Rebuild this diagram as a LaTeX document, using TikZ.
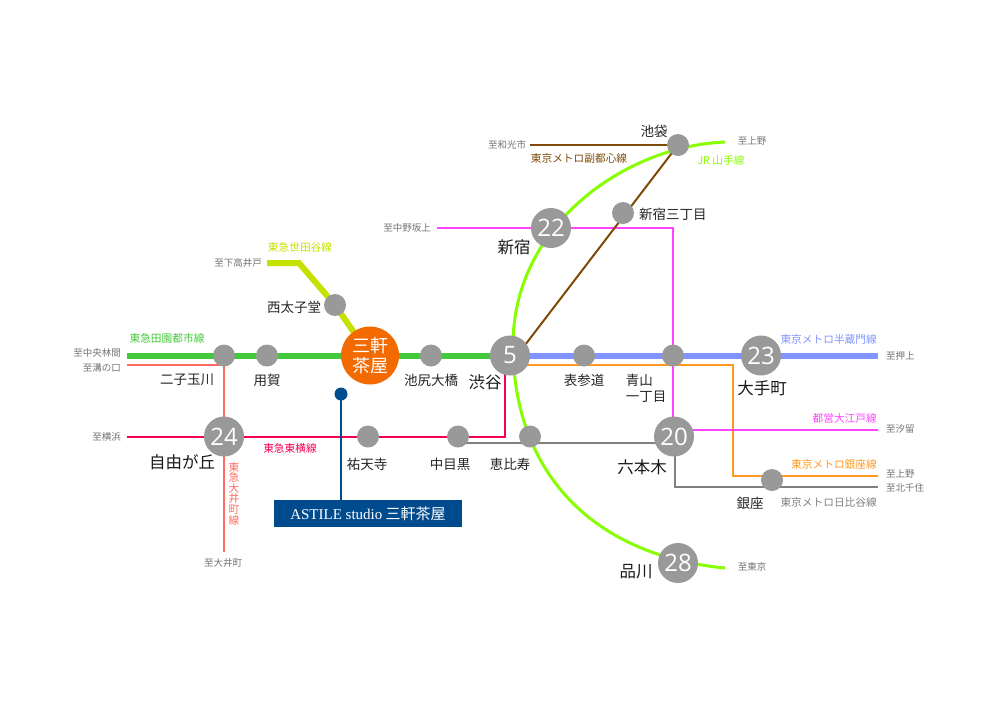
\documentclass[tikz,border=0pt]{standalone}
\usepackage{fontspec}
\setmainfont{Noto Sans CJK JP}
\newfontfamily\numfont{Open Sans}
\newfontfamily\latinfont{Liberation Serif}
\usetikzlibrary{backgrounds}
\definecolor{cgreen}{HTML}{44C83C}
\definecolor{cyellow}{HTML}{C6E000}
\definecolor{csalmon}{HTML}{FF6B62}
\definecolor{ccrimson}{HTML}{F5004F}
\definecolor{cmagenta}{HTML}{FF44FF}
\definecolor{cperi}{HTML}{8095FF}
\definecolor{corange}{HTML}{FF9A1F}
\definecolor{cbrown}{HTML}{7F4A06}
\definecolor{clime}{HTML}{88FF00}
\definecolor{cstop}{HTML}{999999}
\definecolor{cgrey}{HTML}{808080}
\definecolor{cnavy}{HTML}{004B8D}
\definecolor{csun}{HTML}{F26A00}
\def\sc{1pt}
\def\midy{355.5}
\def\lowy{436.5}
\def\ledge{127}
\def\redge{878}
\def\toedge{121}
\def\fromedge{886}
\tikzset{
  stn/.style={circle,fill=cstop,minimum size=22,inner sep=0},
  hub/.style={circle,fill=cstop,minimum size=40,inner sep=0,text=white,font=\numfont\fontsize{24}{24}\selectfont},
  small/.style={inner sep=0,font=\fontsize{13.5}{16}\selectfont,text=black!85},
  big/.style={inner sep=0,font=\fontsize{16.5}{19}\selectfont,text=black!90},
  dest/.style={inner sep=0,font=\fontsize{9.5}{11}\selectfont,text=black!55},
  linelbl/.style={inner sep=0,font=\fontsize{10.7}{13}\selectfont},
  thick line/.style={line width=6},
  thin line/.style={line width=2}
}
\begin{document}
\begin{tikzpicture} [x=\sc, y=-\sc]
\useasboundingbox (0,0) rectangle (1000,713);
% stations
\node [stn] (futako) at (224,\midy) {};
\node [stn] (yoga) at (267,\midy) {};
\node [circle,fill=csun,minimum size=58,inner sep=0,text=white,align=center,
  font=\fontsize{18}{20}\selectfont] (sancha) at (370,\midy) {三軒\\茶屋};
\node [stn] (ikejiri) at (431,\midy) {};
\node [hub] (shibuya) at (510,\midy) {5};
\node [stn] (omote) at (584,\midy) {};
\node [stn] (aoyama) at (673,\midy) {};
\node [hub] (otemachi) at (761,\midy) {23};
\node [stn] (nishita) at (335,305) {};
\node [hub] (jiyu) at (224,\lowy) {24};
\node [stn] (yuten) at (368,\lowy) {};
\node [stn] (nakame) at (458,\lowy) {};
\node [stn] (ebisu) at (530,\lowy) {};
\node [hub] (roppongi) at (674,\lowy) {20};
\node [stn] (ginza) at (772,480) {};
\node [hub] (shinagawa) at (678,563) {28};
\node [hub] (shinjuku) at (551,228) {22};
\node [stn] (sanchome) at (623,213) {};
\node [stn] (ikebukuro) at (678,145) {};
% site marker
\node [circle,fill=cnavy,minimum size=13,inner sep=0] (site) at (341,394) {};
\node [fill=cnavy,text=white,minimum width=188,minimum height=27,inner sep=0,
  font=\fontsize{15}{17}\selectfont] (studio) at (368,513.5) {{\latinfont ASTILE studio} 三軒茶屋};
% free line ends
\coordinate (gfree) at (\ledge,\midy);
\coordinate (bfree) at (\redge,\midy);
\coordinate (yfree) at (267,263);
\coordinate (ybend) at (299,263);
\coordinate (sfree) at (\ledge,365);
\coordinate (scorner) at (224,365);
\coordinate (sbot) at (224,552);
\coordinate (cfree) at (\ledge,\lowy);
\coordinate (ctop) at (505,\midy);
\coordinate (ccorner) at (505,\lowy);
\coordinate (gleft) at (458,442.5);
\coordinate (gright) at (674,442.5);
\coordinate (gtop) at (675,\lowy);
\coordinate (gdown) at (675,487);
\coordinate (gfar) at (\redge,487);
\coordinate (ostart) at (510,365);
\coordinate (ocorner) at (733,365);
\coordinate (ofoot) at (733,476);
\coordinate (ofar) at (\redge,476);
\coordinate (mfree) at (437,228);
\coordinate (mcorner) at (673,228);
\coordinate (mbot) at (673,\lowy);
\coordinate (mleft) at (674,430);
\coordinate (mfar) at (\redge,430);
\coordinate (nfree) at (530,145);
\coordinate (nstop) at (517,\midy);
\coordinate (jtop) at (725,142);
\coordinate (jmid) at (513,345);
\coordinate (jbot) at (725,568);
\begin{scope} [on background layer]
  \draw [cgreen,thick line] (gfree) -- (futako.center) -- (shibuya.center);
  \draw [cperi,thick line] (shibuya.center) -- (bfree);
  \draw [cyellow,thick line,line join=miter] (yfree) -- (ybend) -- (nishita.center) -- (sancha.center);
  \draw [csalmon,thin line] (sfree) -- (scorner) -- (sbot);
  \draw [ccrimson,thin line] (cfree) -- (ccorner) -- (ctop);
  \draw [cgrey,thin line] (gleft) -- (gright);
  \draw [cgrey,thin line] (gtop) -- (gdown) -- (gfar);
  \draw [corange,thin line] (ostart) -- (ocorner) -- (ofoot) -- (ofar);
  \draw [cmagenta,thin line] (mfree) -- (mcorner) -- (mbot);
  \draw [cmagenta,thin line] (mleft) -- (mfar);
  \draw [cbrown,thin line] (nfree) -- (ikebukuro.center);
  \draw [cbrown,thin line] (ikebukuro.center) -- (nstop);
  \draw [clime,line width=3] (jtop) .. controls (625,146) and (513,225) .. (jmid)
    .. controls (513,470) and (590,555) .. (jbot);
  \draw [cnavy,line width=1.6] (site.center) -- (site.center |- studio.north);
\end{scope}
% station names
\node [small] (lfutako) at (187,380) {二子玉川};
\node [small] (lyoga) at (267,380) {用賀};
\node [small] (lnishita) at (294,307) {西太子堂};
\node [small] (likejiri) at (431,380) {池尻大橋};
\node [big] (lshibuya) at (485,382) {渋谷};
\node [small] (lomote) at (584,380) {表参道};
\node [small,align=left,font=\fontsize{13.5}{16}\selectfont] (laoyama) at (646,388) {青山\\一丁目};
\node [big] (lotemachi) at (762,388) {大手町};
\node [big] (ljiyu) at (182,462) {自由が丘};
\node [small] (lyuten) at (367,464) {祐天寺};
\node [small] (lnakame) at (450,464) {中目黒};
\node [small] (lebisu) at (510,464) {恵比寿};
\node [big] (lroppongi) at (642,467) {六本木};
\node [small] (lginza) at (750,503) {銀座};
\node [big] (lshinagawa) at (636,572) {品川};
\node [big] (lshinjuku) at (514,247) {新宿};
\node [small,anchor=west] (lsanchome) at (639,214) {新宿三丁目};
\node [small] (likebukuro) at (654,131) {池袋};
% line names
\node [linelbl,text=cgreen] (tden) at (167,338) {東急田園都市線};
\node [linelbl,text=cyellow] (tset) at (300,247) {東急世田谷線};
\node [linelbl,text=ccrimson] (ttoyo) at (290,448) {東急東横線};
\node [linelbl,text=csalmon,align=center,font=\fontsize{10.7}{10.6}\selectfont] (toimachi) at (234,493.5) {東\\急\\大\\井\\町\\線};
\node [linelbl,text=cbrown] (mfuku) at (579,158) {東京メトロ副都心線};
\node [linelbl,text=clime] (jryama) at (721,160) {JR 山手線};
\node [linelbl,text=cperi,anchor=east] (mhanzo) at (877,339) {東京メトロ半蔵門線};
\node [linelbl,text=cmagenta,anchor=east] (toedo) at (877,418) {都営大江戸線};
\node [linelbl,text=corange,anchor=east] (mginza) at (877,464) {東京メトロ銀座線};
\node [linelbl,text=cgrey,anchor=east] (mhibiya) at (877,502) {東京メトロ日比谷線};
% destinations
\node [dest,anchor=east] (dchuo) at (\toedge,353) {至中央林間};
\node [dest,anchor=east] (dmizo) at (\toedge,368) {至溝の口};
\node [dest,anchor=east] (dyoko) at (\toedge,437) {至横浜};
\node [dest] (dshimo) at (238,263) {至下高井戸};
\node [dest] (doi) at (223,563) {至大井町};
\node [dest] (dwako) at (507,145) {至和光市};
\node [dest,anchor=east] (dnaka) at (431,228) {至中野坂上};
\node [dest] (dueno) at (752,141) {至上野};
\node [dest] (dtokyo) at (752,567) {至東京};
\node [dest,anchor=west] (doshi) at (\fromedge,356) {至押上};
\node [dest,anchor=west] (dshio) at (\fromedge,429) {至汐留};
\node [dest,anchor=west] (dueno2) at (\fromedge,474) {至上野};
\node [dest,anchor=west] (dkita) at (\fromedge,488) {至北千住};
\end{tikzpicture}
\end{document}
